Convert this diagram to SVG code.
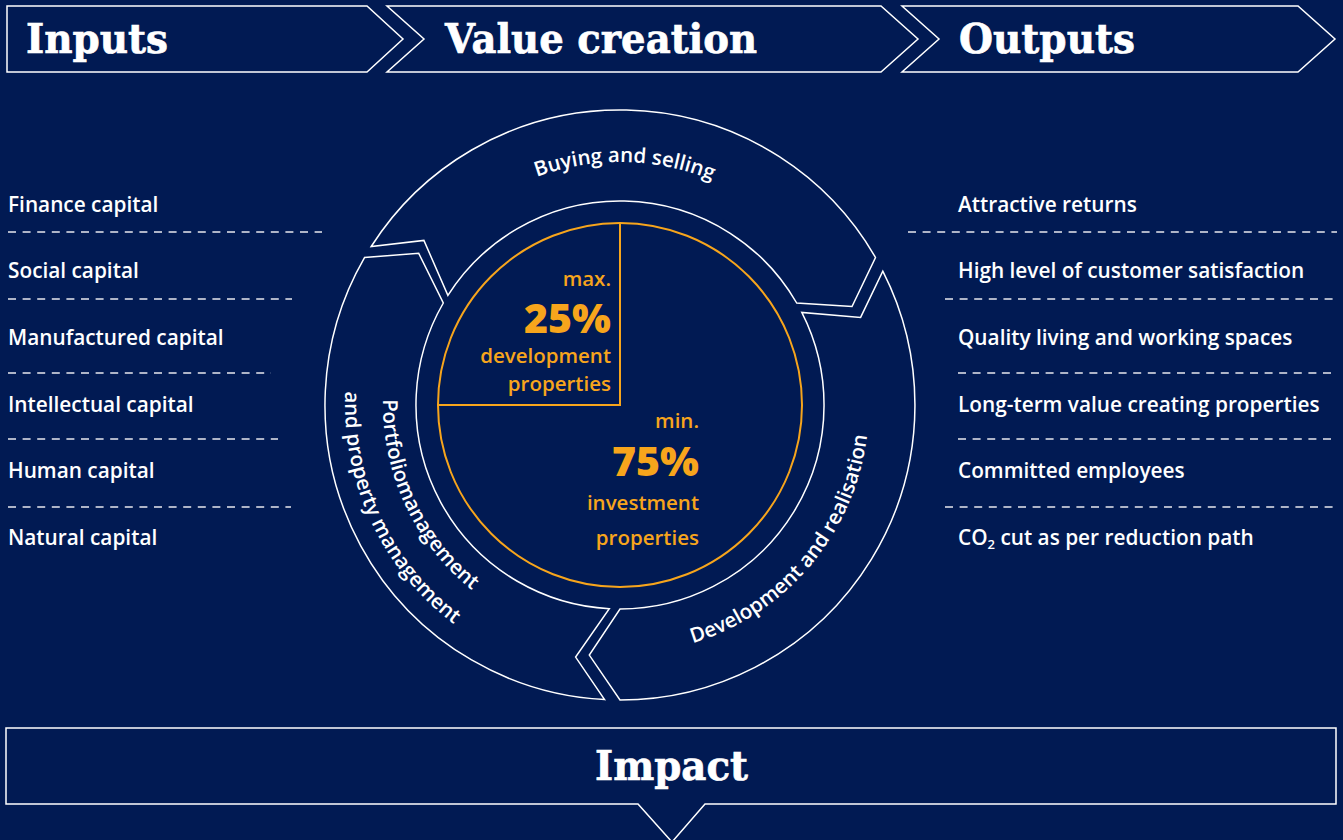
<svg xmlns="http://www.w3.org/2000/svg" width="1343" height="840" viewBox="0 0 1343 840">
  <defs>
    <style>
      .bg { fill: #011a53; }
      .box { fill: #011a53; stroke: #ffffff; stroke-width: 1.5; stroke-linejoin: miter; }
      .head { font-family: "DejaVu Serif", "Liberation Serif", serif; font-weight: bold; font-size: 41px; fill: #ffffff; stroke: #ffffff; stroke-width: 0.7; }
      .lbl { font-family: "Open Sans", "Liberation Sans", sans-serif; font-weight: 600; font-size: 20.8px; fill: #ffffff; }
      .seg { fill: #011a53; stroke: #ffffff; stroke-width: 1.5; stroke-linejoin: miter; }
      .ring { font-family: "Open Sans", "Liberation Sans", sans-serif; font-weight: 600; font-size: 20.5px; fill: #ffffff; }
      .or { font-family: "Open Sans", "Liberation Sans", sans-serif; font-weight: 600; font-size: 20.5px; fill: #f7a51c; text-anchor: end; }
      .big { font-family: "Open Sans", "Liberation Sans", sans-serif; font-weight: 800; font-size: 41px; fill: #f7a51c; text-anchor: end; }
      .orl { fill: none; stroke: #f7a51c; stroke-width: 2; }
      .dash { stroke: #e8e8ee; stroke-width: 1.4; stroke-dasharray: 8 6.6; fill: none; }
    </style>
    <path id="pBuy" d="M 409.6 283.5 A 243 243 0 0 1 830.4 283.5"/>
    <path id="pDev" d="M 641.7 653.1 A 249 249 0 0 0 868.1 383.3"/>
    <path id="pPort1" d="M 397.3 323.9 A 237 237 0 0 0 538.9 627.7"/>
    <path id="pPort2" d="M 361.6 310.9 A 275 275 0 0 0 525.9 663.4"/>
  </defs>

  <rect class="bg" x="0" y="0" width="1343" height="840"/>

  <g id="header-inputs">
    <polygon class="box" points="7,6 367,6 403,39 367,72 7,72"/>
    <text class="head" x="26" y="53" textLength="142" lengthAdjust="spacingAndGlyphs">Inputs</text>
  </g>
  <g id="header-value-creation">
    <polygon class="box" points="387,6 881,6 918,39 881,72 387,72 424,39"/>
    <text class="head" x="445" y="53" textLength="312" lengthAdjust="spacingAndGlyphs">Value creation</text>
  </g>
  <g id="header-outputs">
    <polygon class="box" points="902,6 1298,6 1335,39 1298,72 902,72 939,39"/>
    <text class="head" x="959" y="53" textLength="176" lengthAdjust="spacingAndGlyphs">Outputs</text>
  </g>

  <g id="inputs-list">
    <text class="lbl" x="8" y="212">Finance capital</text>
    <text class="lbl" x="8" y="278">Social capital</text>
    <text class="lbl" x="8" y="345">Manufactured capital</text>
    <text class="lbl" x="8" y="412">Intellectual capital</text>
    <text class="lbl" x="8" y="478">Human capital</text>
    <text class="lbl" x="8" y="545">Natural capital</text>
    <line class="dash" x1="8" y1="232" x2="322" y2="232"/>
    <line class="dash" x1="8" y1="299" x2="292" y2="299"/>
    <line class="dash" x1="8" y1="373" x2="271" y2="373"/>
    <line class="dash" x1="8" y1="439" x2="278" y2="439"/>
    <line class="dash" x1="8" y1="507" x2="291" y2="507"/>
  </g>

  <g id="outputs-list">
    <text class="lbl" x="958" y="212">Attractive returns</text>
    <text class="lbl" x="958" y="278">High level of customer satisfaction</text>
    <text class="lbl" x="958" y="345">Quality living and working spaces</text>
    <text class="lbl" x="958" y="412">Long-term value creating properties</text>
    <text class="lbl" x="958" y="478">Committed employees</text>
    <text class="lbl" x="958" y="545">CO<tspan font-size="13" dy="4">2</tspan><tspan dy="-4"> cut as per reduction path</tspan></text>
    <line class="dash" x1="908" y1="232" x2="1337" y2="232"/>
    <line class="dash" x1="945" y1="299" x2="1337" y2="299"/>
    <line class="dash" x1="958" y1="373" x2="1337" y2="373"/>
    <line class="dash" x1="958" y1="439" x2="1337" y2="439"/>
    <line class="dash" x1="945" y1="507" x2="1337" y2="507"/>
  </g>

  <g id="cycle">
    <g id="seg-buying">
      <path class="seg" d="M 371.2 246.5 A 295 295 0 0 1 875.5 257.5 L 852 306.5 L 796.7 303 A 204 204 0 0 0 447.9 295.4 L 423.9 240.4 Z"/>
      <text class="ring"><textPath href="#pBuy" startOffset="259" text-anchor="middle">Buying and selling</textPath></text>
    </g>
    <g id="seg-development">
      <path class="seg" d="M 882.8 271.1 A 295 295 0 0 1 620 700 L 589.3 655.1 L 620 609 A 204 204 0 0 0 801.8 312.4 L 860.6 317.4 Z"/>
      <text class="ring"><textPath href="#pDev" startOffset="50%" text-anchor="middle">Development and realisation</textPath></text>
    </g>
    <g id="seg-portfolio">
      <path class="seg" d="M 604.6 699.6 A 295 295 0 0 1 364.5 257.5 L 418.7 253.3 L 443.3 303 A 204 204 0 0 0 609.3 608.7 L 575.6 657.1 Z"/>
      <text class="ring"><textPath href="#pPort1" startOffset="50%" text-anchor="middle">Portfoliomanagement</textPath></text>
      <text class="ring"><textPath href="#pPort2" startOffset="50%" text-anchor="middle">and property management</textPath></text>
    </g>
  </g>

  <g id="portfolio-split">
    <circle class="orl" cx="620" cy="405" r="182"/>
    <polyline class="orl" points="620,223 620,405 438,405"/>
    <text class="or" x="611" y="286">max.</text>
    <text class="big" x="611" y="333">25%</text>
    <text class="or" x="611" y="363">development</text>
    <text class="or" x="611" y="391">properties</text>
    <text class="or" x="699" y="428">min.</text>
    <text class="big" x="699" y="476">75%</text>
    <text class="or" x="699" y="510">investment</text>
    <text class="or" x="699" y="545">properties</text>
  </g>

  <g id="impact">
    <path class="box" d="M 6 728 H 1336 V 804 H 705 L 672 842 L 638 804 H 6 Z"/>
    <text class="head" x="595" y="780" textLength="153" lengthAdjust="spacingAndGlyphs">Impact</text>
  </g>
</svg>
